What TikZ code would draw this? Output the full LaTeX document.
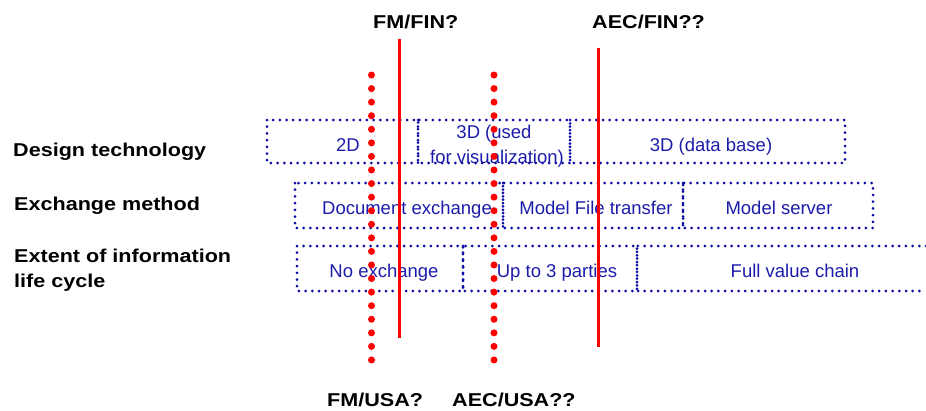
\documentclass[tikz,border=0pt]{standalone}
\usepackage{fontspec}
\usepackage{graphicx}
\setmainfont{Liberation Sans}
\newcommand{\widetxt}[1]{\scalebox{1.16}[1]{#1}}
\definecolor{boxblue}{RGB}{10,10,165}
\definecolor{textblue}{RGB}{28,28,170}
\begin{document}
\begin{tikzpicture}[x=1pt,y=-1pt,
  box/.style={draw=boxblue, line width=3pt, line cap=round, dash pattern=on 0pt off 6.7pt},
  boxtext/.style={text=textblue, font=\fontsize{18.5}{22}\selectfont, anchor=base, inner sep=0pt},
  rowlabel/.style={font=\bfseries\fontsize{18.6}{22}\selectfont, anchor=base west, inner sep=0pt},
  firmline/.style={draw=red, line width=3pt},
  dotline/.style={draw=red, line width=7pt, line cap=round, dash pattern=on 0pt off 13.57pt}]
\useasboundingbox (0,0) rectangle (926,410);

% row labels
\node[rowlabel] (design)  at (13,156.7) {\widetxt{Design technology}};
\node[rowlabel] (exch)    at (14,210)   {\widetxt{Exchange method}};
\node[rowlabel] (extent1) at (14,262)   {\widetxt{Extent of information}};
\node[rowlabel] (extent2) at (14,287)   {\widetxt{life cycle}};

% row 1: design technology
\draw[box] (267,120) rectangle (418,163);
\draw[box] (418,120) rectangle (570,163);
\draw[box] (570,120) rectangle (845,163);
\node[boxtext] (t2d)   at (348,151.5) {2D};
\node[boxtext] (t3du)  at (494,138.3) {3D (used};
\node[boxtext] (t3dv)  at (497,163.3) {for visualization)};
\node[boxtext] (t3ddb) at (711,151)   {3D (data base)};

% row 2: exchange method
\draw[box] (295,183) rectangle (503,228);
\draw[box] (503,183) rectangle (683,228);
\draw[box] (683,183) rectangle (873,228);
\node[boxtext] (tdoc)  at (407,214.3) {Document exchange};
\node[boxtext] (tfile) at (596,214.3) {Model File transfer};
\node[boxtext] (tsrv)  at (779,214.3) {Model server};

% row 3: extent of information life cycle
\draw[box] (297,246) rectangle (463,291);
\draw[box] (463,246) rectangle (637,291);
\draw[box] (926,246) -- (637,246) -- (637,291) -- (926,291);
\node[boxtext] (tnone) at (384,277.5) {No exchange};
\node[boxtext] (tup3)  at (557,277.5) {Up to 3 parties};
\node[boxtext] (tfull) at (795,277.5) {Full value chain};

% position labels
\node[rowlabel] (fmfin)  at (373,28)  {\widetxt{FM/FIN?}};
\node[rowlabel] (aecfin) at (592,28)  {\widetxt{AEC/FIN??}};
\node[rowlabel] (fmusa)  at (327,406) {\widetxt{FM/USA?}};
\node[rowlabel] (aecusa) at (452,406) {\widetxt{AEC/USA??}};

% position markers
\coordinate (fmfinTop)  at (399,39);
\coordinate (fmfinBot)  at (399,338);
\coordinate (aecfinTop) at (598,48);
\coordinate (aecfinBot) at (598,347);
\coordinate (fmusaTop)  at (371.5,75);
\coordinate (fmusaBot)  at (371.5,360);
\coordinate (aecusaTop) at (494,75);
\coordinate (aecusaBot) at (494,360);

\draw[dotline] (fmusaTop) -- (fmusaBot);
\draw[dotline] (aecusaTop) -- (aecusaBot);
\draw[firmline] (fmfinTop) -- (fmfinBot);
\draw[firmline] (aecfinTop) -- (aecfinBot);
\end{tikzpicture}
\end{document}
